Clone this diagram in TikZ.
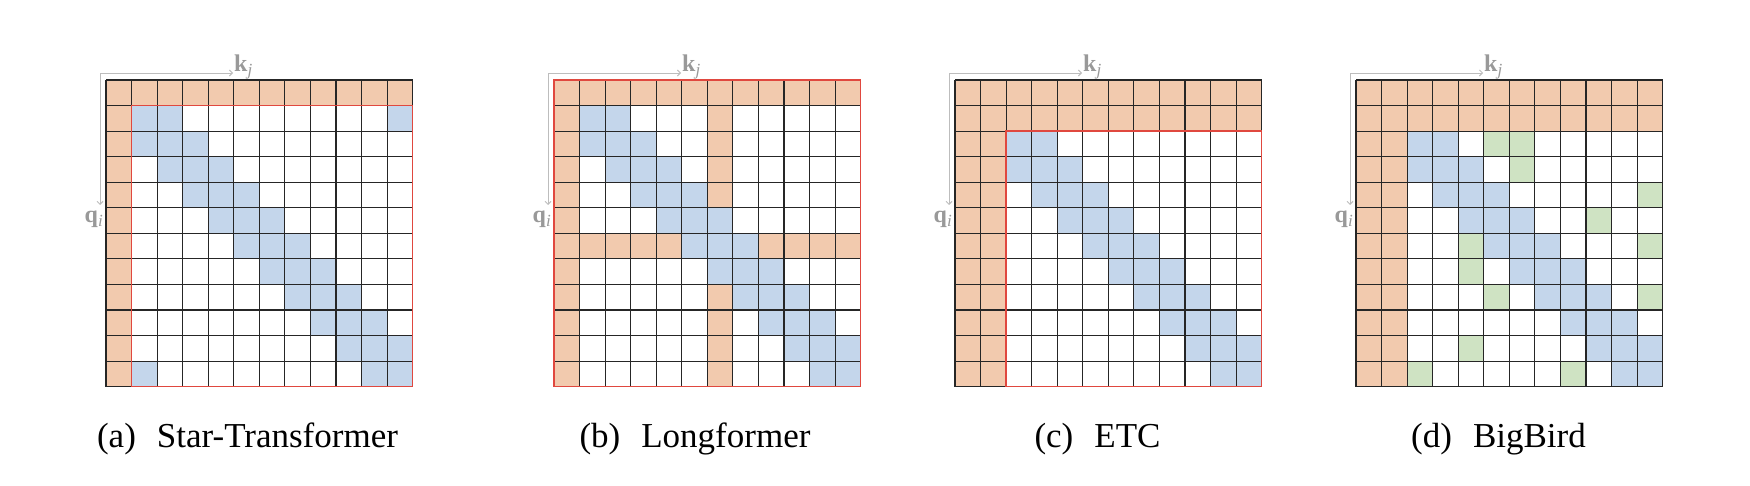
\documentclass[tikz,border=0pt]{standalone}
\usepackage{fontspec}
\setmainfont{Liberation Serif}
\usetikzlibrary{arrows.meta}
\definecolor{org}{HTML}{F2CAAE}
\definecolor{blu}{HTML}{C4D6EB}
\definecolor{grn}{HTML}{CFE3C3}
\definecolor{redb}{HTML}{E0483F}
\definecolor{axg}{HTML}{BDBDBD}
\definecolor{lblg}{HTML}{999999}
\tikzset{
 gline/.style={draw=black!85,line width=1.1pt},
 redbox/.style={draw=redb,line width=1.6pt},
 axarrow/.style={draw=axg,line width=0.9pt,{Straight Barb[length=3pt,width=6pt]}-{Straight Barb[length=3pt,width=6pt]}},
 axlabel/.style={text=lblg,inner sep=0pt,font=\fontsize{24}{24}\selectfont},
 caption/.style={anchor=base,inner sep=0pt,font=\fontsize{35}{42}\selectfont},
}
\newcommand\mkgrid{%
 \foreach \i in {0,...,12}{\draw[gline] (\i,0) -- (\i,12); \draw[gline] (0,\i) -- (12,\i);}}
\newcommand\cellfill[3]{\fill[#1] (#2,#3) rectangle ++(1,1);}
\newcommand\band[2]{% rows #1..11, columns clipped to >= #2
 \foreach \r in {#1,...,11}{\foreach \d in {-1,0,1}{%
  \pgfmathtruncatemacro\cc{\r+\d}%
  \ifnum\cc<#2\relax\else\ifnum\cc<12 \cellfill{blu}{\cc}{\r}\fi\fi}}}
\newcommand\axes[3]{%
 \coordinate (c#1) at (#2-6,#3-7);
 \coordinate (ke#1) at (#2+127,#3-7);
 \coordinate (qe#1) at (#2-6,#3+125);
 \draw[axarrow] (ke#1) -- (c#1) -- (qe#1);
 \node[axlabel,anchor=base west] (k#1) at (#2+128,72) {\textbf{k}\raisebox{-4pt}{\fontsize{17}{17}\selectfont\itshape j}};
 \node[axlabel,anchor=base east] (q#1) at (#2-3,223) {\textbf{q}\raisebox{-4pt}{\fontsize{17}{17}\selectfont\itshape i}};
}
\begin{document}
\begin{tikzpicture}[x=1pt,y=-1pt]
\useasboundingbox (0,0) rectangle (1750,486);
\fill[white] (0,0) rectangle (1750,486);
% (a) Star-Transformer
\axes{a}{106}{80}
\begin{scope}[xshift=106pt,yshift=-80pt,x=25.55pt,y=-25.55pt]
 \fill[org] (0,0) rectangle (12,1);
 \fill[org] (0,0) rectangle (1,12);
 \band{1}{1}
 \cellfill{blu}{11}{1}
 \cellfill{blu}{1}{11}
 \mkgrid
 \draw[redbox] (1,1) rectangle (12,12);
\end{scope}
% (b) Longformer
\axes{b}{554}{80}
\begin{scope}[xshift=554pt,yshift=-80pt,x=25.55pt,y=-25.55pt]
 \fill[org] (0,0) rectangle (12,1);
 \fill[org] (0,0) rectangle (1,12);
 \fill[org] (6,0) rectangle (7,12);
 \fill[org] (0,6) rectangle (12,7);
 \band{1}{1}
 \mkgrid
 \draw[redbox] (0,0) rectangle (12,12);
\end{scope}
% (c) ETC
\axes{c}{955}{80}
\begin{scope}[xshift=955pt,yshift=-80pt,x=25.55pt,y=-25.55pt]
 \fill[org] (0,0) rectangle (12,2);
 \fill[org] (0,0) rectangle (2,12);
 \band{2}{2}
 \mkgrid
 \draw[redbox] (2,2) rectangle (12,12);
\end{scope}
% (d) BigBird
\axes{d}{1356}{80}
\begin{scope}[xshift=1356pt,yshift=-80pt,x=25.55pt,y=-25.55pt]
 \fill[org] (0,0) rectangle (12,2);
 \fill[org] (0,0) rectangle (2,12);
 \band{2}{2}
 \foreach \cx/\ry in {5/2,6/2,6/3,11/4,9/5,4/6,11/6,4/7,5/8,11/8,4/10,2/11,8/11}{\cellfill{grn}{\cx}{\ry}}
 \mkgrid
\end{scope}
% captions
\node[caption] (capa) at (247.5,447) {(a)\hspace{0.6em}Star-Transformer};
\node[caption] (capb) at (695,447) {(b)\hspace{0.6em}Longformer};
\node[caption] (capc) at (1097.5,447) {(c)\hspace{0.6em}ETC};
\node[caption] (capd) at (1498.5,447) {(d)\hspace{0.6em}BigBird};
\end{tikzpicture}
\end{document}
